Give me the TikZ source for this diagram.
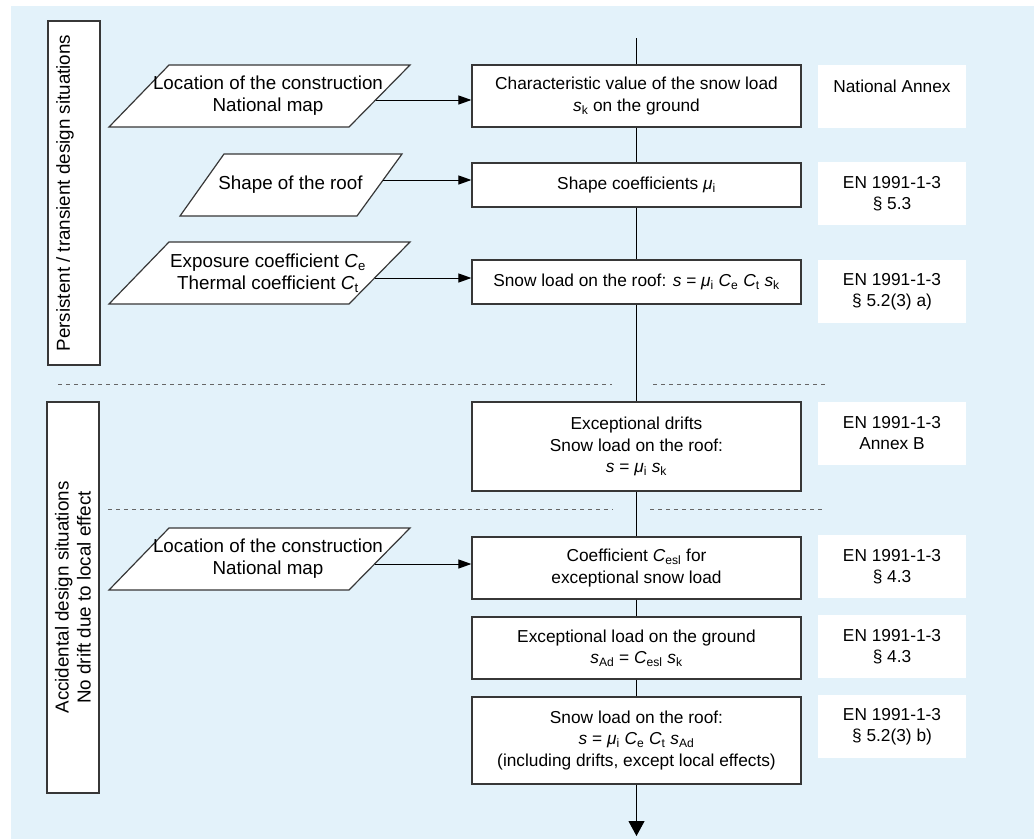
\documentclass[tikz,border=0pt]{standalone}
\usepackage{fontspec}
\setmainfont{Liberation Sans}
\usetikzlibrary{arrows.meta}
\definecolor{bgblue}{RGB}{227,242,250}
\definecolor{edge}{RGB}{55,55,55}
\newcommand\fbig{\fontsize{18.8}{22}\selectfont}
\newcommand\fsm{\fontsize{17.3}{21.5}\selectfont}
\newcommand\mui{\textit{μ}\textsubscript{i}}
\newcommand\vs[2]{\textit{#1}\textsubscript{#2}}
\begin{document}
\begin{tikzpicture}[x=1pt,y=-1pt,
  stepbox/.style={draw=edge, line width=1.2pt, fill=white, minimum width=329pt, inner sep=0pt, align=center, font=\fsm},
  refbox/.style={fill=white, minimum width=148pt, minimum height=63pt, inner sep=0pt, align=center, font=\fsm},
  para/.style={draw=edge, line width=1.2pt, fill=white},
  ptext/.style={align=center, font=\fbig, inner sep=0pt},
  sidebox/.style={draw=edge, line width=1.2pt, fill=white, rotate=90, inner sep=0pt, align=center, font=\fbig},
  link/.style={line width=1pt, black},
  arr/.style={link, -{Triangle[length=13pt,width=9pt]}},
  bigarr/.style={link, -{Triangle[length=15pt,width=16pt]}},
  sep/.style={dash pattern=on 4pt off 4pt, line width=0.8pt, black!60}
]
\useasboundingbox (0,0) rectangle (1034,839);
\fill[bgblue] (11,6) rectangle (1034,839);

% separators
\draw[sep] (58,384) -- (612,384);
\draw[sep] (653,384) -- (825,384);
\draw[sep] (108,509) -- (613,509);
\draw[sep] (650,509) -- (822,509);

% side labels
\node[sidebox, minimum width=344pt, minimum height=52pt] (side1) at (74,193) {Persistent / transient design situations\\ \mbox{}};
\node[sidebox, minimum width=391pt, minimum height=52pt] (side2) at (73,597.5) {Accidental design situations\\No drift due to local effect};

% parallelograms (inputs)
\draw[para] (109,127) -- (169,65) -- (410,65) -- (349,127) -- cycle;
\node[ptext] (p1) at (268,96) {Location of the construction\\National map};
\draw[para] (180,216) -- (224,154) -- (402,154) -- (357,216) -- cycle;
\node[ptext] (p2) at (290.5,185) {Shape of the roof};
\draw[para] (109,304) -- (169,242) -- (410,242) -- (349,304) -- cycle;
\node[ptext] (p3) at (268,273) {Exposure coefficient \vs{C}{e}\\Thermal coefficient \vs{C}{t}};
\draw[para] (109,590) -- (169,528) -- (410,528) -- (349,590) -- cycle;
\node[ptext] (p4) at (268,559) {Location of the construction\\National map};

\coordinate (p1e) at (375.6,100);
\coordinate (p2e) at (383,180);
\coordinate (p3e) at (374.6,278);
\coordinate (p4e) at (374.6,564);

% central steps
\node[stepbox, minimum height=62pt] (c1) at (636.5,96) {Characteristic value of the snow load\\ \vs{s}{k} on the ground};
\node[stepbox, minimum height=44pt] (c2) at (636.5,185) {Shape coefficients \mui};
\node[stepbox, minimum height=44pt] (c3) at (636.5,282) {Snow load on the roof: \textit{s} = \mui\ \vs{C}{e} \vs{C}{t} \vs{s}{k}};
\node[stepbox, minimum height=89pt] (c4) at (636.5,446.5) {Exceptional drifts\\Snow load on the roof:\\ \textit{s} = \mui\ \vs{s}{k}};
\node[stepbox, minimum height=62pt] (c5) at (636.5,568) {Coefficient \vs{C}{esl} for\\exceptional snow load};
\node[stepbox, minimum height=62pt] (c6) at (636.5,648) {Exceptional load on the ground\\ \vs{s}{Ad} = \vs{C}{esl} \vs{s}{k}};
\node[stepbox, minimum height=87pt] (c7) at (636.5,740.5) {Snow load on the roof:\\ \textit{s} = \mui\ \vs{C}{e} \vs{C}{t} \vs{s}{Ad}\\(including drifts, except local effects)};

% references
\node[refbox] (r1) at (892,96.5) {National Annex\\ \mbox{}};
\node[refbox] (r2) at (892,193.5) {EN 1991-1-3\\§ 5.3};
\node[refbox] (r3) at (892,291.5) {EN 1991-1-3\\§ 5.2(3) a)};
\node[refbox] (r4) at (892,433) {EN 1991-1-3\\Annex B};
\node[refbox] (r5) at (892,566.5) {EN 1991-1-3\\§ 4.3};
\node[refbox] (r6) at (892,646.5) {EN 1991-1-3\\§ 4.3};
\node[refbox] (r7) at (892,726.5) {EN 1991-1-3\\§ 5.2(3) b)};

% main flow
\coordinate (top) at (636.5,38);
\coordinate (bot) at (636.5,836);
\draw[link] (top) -- (c1);
\draw[link] (c1) -- (c2);
\draw[link] (c2) -- (c3);
\draw[link] (c3) -- (c4);
\draw[link] (c4) -- (c5);
\draw[link] (c5) -- (c6);
\draw[link] (c6) -- (c7);
\draw[bigarr] (c7) -- (bot);

% input arrows
\draw[arr] (p1e) -- (p1e -| c1.west);
\draw[arr] (p2e) -- (p2e -| c2.west);
\draw[arr] (p3e) -- (p3e -| c3.west);
\draw[arr] (p4e) -- (p4e -| c5.west);
\end{tikzpicture}
\end{document}
